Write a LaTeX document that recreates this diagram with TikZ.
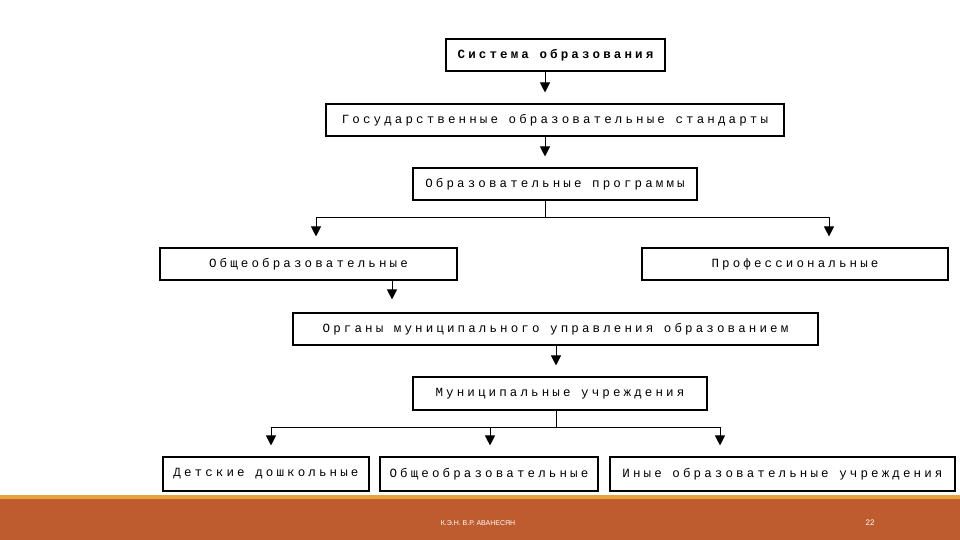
\documentclass[tikz,border=0pt]{standalone}
\usepackage{fontspec}
\setmonofont{Liberation Mono}[LetterSpace=25]
\setsansfont{Liberation Sans}
\usetikzlibrary{arrows.meta}
\definecolor{brick}{HTML}{BE5B2F}
\definecolor{gold}{HTML}{E6A23C}
\tikzset{
  box/.style={draw, line width=1.1pt, rectangle, inner sep=0pt, font=\fontsize{12.5}{14}\selectfont\ttfamily},
  arr/.style={line width=1pt, -{Triangle[width=10pt,length=10pt]}, shorten >=11pt},
  ln/.style={line width=1pt}
}
\begin{document}
\begin{tikzpicture}[x=1pt,y=-1pt]
\useasboundingbox (0,0) rectangle (960,540);
\fill[white] (0,0) rectangle (960,540);
% footer
\fill[gold] (0,495) rectangle (960,499);
\fill[brick] (0,499) rectangle (960,540);
\node[text=white, font=\sffamily\fontsize{7}{8}\selectfont] (auth) at (478,523) {К.Э.Н. В.Р. АВАНЕСЯН};
\node[text=white, font=\sffamily\fontsize{8}{9}\selectfont] (pg) at (870,523) {22};
% boxes
\node[box, minimum width=219, minimum height=32, font=\fontsize{12.5}{14}\selectfont\ttfamily\bfseries] (b1) at (555.5,55) {Система образования};
\node[box, minimum width=458, minimum height=32] (b2) at (555,120) {Государственные образовательные стандарты};
\node[box, minimum width=284, minimum height=32] (b3) at (555,184) {Образовательные программы};
\node[box, minimum width=297, minimum height=32] (b4) at (308.5,264) {Общеобразовательные};
\node[box, minimum width=306, minimum height=32] (b5) at (795,264) {Профессиональные};
\node[box, minimum width=525, minimum height=32] (b6) at (555.5,329) {Органы муниципального управления образованием};
\node[box, minimum width=294, minimum height=33] (b7) at (560,393.5) {Муниципальные учреждения};
\node[box, minimum width=206, minimum height=34] (b8) at (266,474) {Детские дошкольные};
\node[box, minimum width=218, minimum height=34] (b9) at (489,474) {Общеобразовательные};
\node[box, minimum width=345, minimum height=34] (b10) at (782.5,474) {Иные образовательные учреждения};
% connector coordinates
\coordinate (x1) at (545,0);
\coordinate (x2) at (392,0);
\coordinate (x3) at (556,0);
\coordinate (xl) at (316,217);
\coordinate (xr) at (829,217);
\coordinate (fa) at (545,217);
\coordinate (ml) at (271,427);
\coordinate (mm) at (490,427);
\coordinate (mr) at (720,427);
\coordinate (fb) at (556,427);
% arrows
\draw[arr] (b1.south -| x1) -- (b2.north -| x1);
\draw[arr] (b2.south -| x1) -- (b3.north -| x1);
\draw[ln] (b3.south -| x1) -- (fa);
\draw[ln] (xl) -- (xr);
\draw[arr] (xl) -- (b4.north -| xl);
\draw[arr] (xr) -- (b5.north -| xr);
\draw[arr, shorten >=13pt] (b4.south -| x2) -- (b6.north -| x2);
\draw[arr] (b6.south -| x3) -- (b7.north -| x3);
\draw[ln] (b7.south -| x3) -- (fb);
\draw[ln] (ml) -- (mr);
\draw[arr] (ml) -- (b8.north -| ml);
\draw[arr] (mm) -- (b9.north -| mm);
\draw[arr] (mr) -- (b10.north -| mr);
\end{tikzpicture}
\end{document}
